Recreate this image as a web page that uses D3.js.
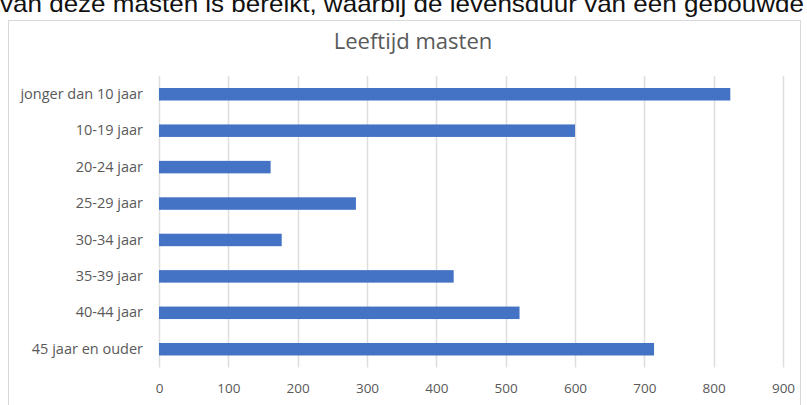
<!DOCTYPE html>
<html>
<head>
<meta charset="utf-8">
<script src="https://cdn.jsdelivr.net/npm/d3@7"></script>
<style>
  html, body { margin: 0; padding: 0; background: #fff; overflow: hidden; }
  svg { display: block; }
</style>
</head>
<body>
<svg id="chart" width="807" height="405"></svg>
<script>
// leeftijdsklassen en aantallen
var categories = ["jonger dan 10 jaar", "10-19 jaar", "20-24 jaar", "25-29 jaar",
                  "30-34 jaar", "35-39 jaar", "40-44 jaar", "45 jaar en ouder"];
var values = [824, 600, 161, 284, 177, 425, 520, 714];
var xTicks = [0, 100, 200, 300, 400, 500, 600, 700, 800, 900];
var title = "Leeftijd masten";
var bodyText = "van deze masten is bereikt, waarbij de levensduur van een gebouwde";

var svg = d3.select("#chart"),
    margin = {top: 76, right: 24, bottom: 38, left: 159},
    width = 783 - margin.left,
    height = 367.5 - margin.top;

// tekst van het document boven de grafiek (afgesneden in het origineel)
svg.append("text")
    .attr("x", 0)
    .attr("y", 12)
    .attr("textLength", 804)
    .attr("lengthAdjust", "spacingAndGlyphs")
    .attr("font-family", "Liberation Sans, Arial, sans-serif")
    .attr("font-size", 24)
    .attr("fill", "#111")
    .text(bodyText);

// kader van de grafiek
svg.append("rect")
    .attr("x", 8.5)
    .attr("y", 20.5)
    .attr("width", 792)
    .attr("height", 420)
    .attr("fill", "#fff")
    .attr("stroke", "#d9d9d9");

svg.append("text")
    .attr("x", 413)
    .attr("y", 49)
    .attr("text-anchor", "middle")
    .attr("font-family", "Open Sans, sans-serif")
    .attr("font-size", 22)
    .attr("fill", "#595959")
    .text(title);

var g = svg.append("g").attr("transform", "translate(" + margin.left + "," + margin.top + ")");

var x = d3.scaleLinear()
    .domain([0, 900])
    .range([0, width]);

var y = d3.scaleBand()
    .domain(categories)
    .range([0, height])
    .paddingInner(0.657)
    .paddingOuter(0.33);

// rasterlijnen
g.append("g")
    .selectAll("line")
    .data(xTicks)
    .enter().append("line")
    .attr("x1", function(d) { return Math.round(x(d)) + 0.5; })
    .attr("x2", function(d) { return Math.round(x(d)) + 0.5; })
    .attr("y1", 0)
    .attr("y2", height)
    .attr("stroke", "#dedede")
    .attr("stroke-width", 1.5);

// x-as
var xAxis = g.append("g")
    .attr("transform", "translate(0," + height + ")")
    .call(d3.axisBottom(x).tickValues(xTicks).tickSize(0).tickPadding(16));
xAxis.select(".domain").remove();
xAxis.selectAll("text")
    .attr("font-family", "Open Sans, sans-serif")
    .attr("font-size", 13.5)
    .attr("fill", "#595959");

// y-as
var yAxis = g.append("g")
    .call(d3.axisLeft(y).tickSize(0).tickPadding(16));
yAxis.select(".domain").remove();
yAxis.selectAll("text")
    .attr("font-family", "Open Sans, sans-serif")
    .attr("font-size", 14.5)
    .attr("fill", "#595959");

// staven
g.selectAll(".bar")
    .data(values)
    .enter().append("rect")
    .attr("class", "bar")
    .attr("x", x(0))
    .attr("y", function(d, i) { return y(categories[i]); })
    .attr("width", function(d) { return x(d) - x(0); })
    .attr("height", y.bandwidth())
    .attr("fill", "#4472c4");
</script>
</body>
</html>
